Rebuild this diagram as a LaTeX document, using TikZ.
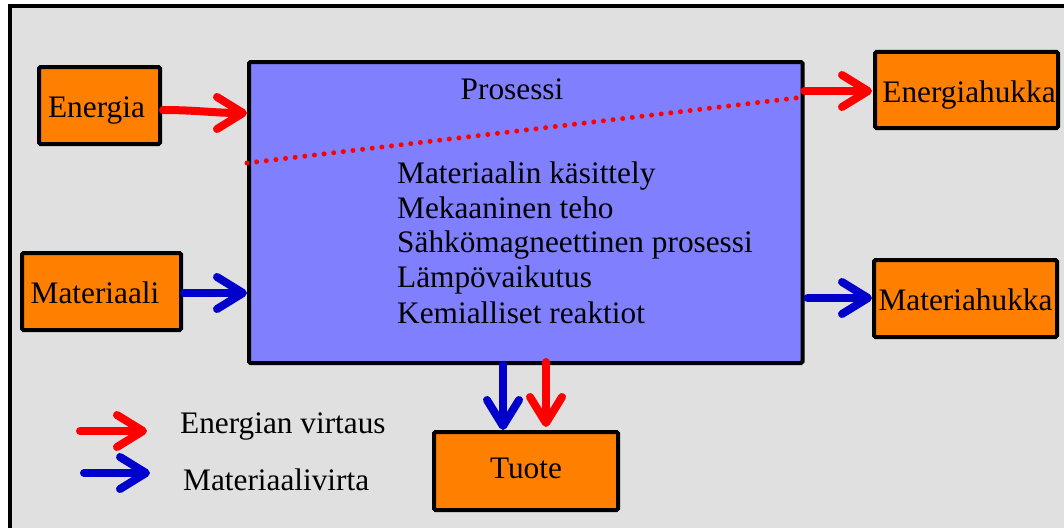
\documentclass[tikz,border=0pt]{standalone}
\usepackage{fontspec}
\setmainfont{Liberation Serif}
\usetikzlibrary{arrows.meta,calc}
\definecolor{bg}{HTML}{E0E0E0}
\definecolor{orangebox}{HTML}{FF8000}
\definecolor{procfill}{HTML}{8080FF}
\definecolor{ered}{HTML}{FF0000}
\definecolor{mblue}{HTML}{0000CC}
\tikzset{
 box/.style={draw=black, line width=4pt, fill=orangebox, rounded corners=1.5pt, inner sep=0pt,
   font=\fontsize{31.3}{35}\selectfont, text height=26pt, text depth=2pt},
 procbox/.style={draw=black, line width=4pt, fill=procfill, rounded corners=1.5pt, inner sep=0pt},
 flowarrow/.style={line width=8pt, line cap=round, -{Straight Barb[length=26pt,width=32pt,round]}},
 earrow/.style={flowarrow, draw=ered},
 marrow/.style={flowarrow, draw=mblue},
 dotline/.style={draw=ered, line width=5pt, line cap=round, dash pattern=on 0pt off 9.7pt},
 txt/.style={font=\fontsize{31.3}{35}\selectfont, inner sep=0pt},
}
\begin{document}
\begin{tikzpicture}[x=1pt,y=-1pt]
\useasboundingbox (0,0) rectangle (1064,527);
\clip (0,0) rectangle (1064,527);
\fill[white] (0,0) rectangle (1064,527);
\draw[line width=4pt, fill=bg] (10,6.5) rectangle (1085,550);

% boxes
\node[procbox, minimum width=553.5pt, minimum height=301pt] (process) at (525.75,212.5) {};
\node[box, minimum width=121pt, minimum height=77pt] (energia) at (99.5,105.5) {Energia\hspace*{6pt}};
\node[box, minimum width=159pt, minimum height=77pt] (materiaali) at (101.5,291.5) {Materiaali\hspace*{13pt}};
\node[box, minimum width=183pt, minimum height=76pt] (ehukka) at (966.5,90) {\hspace*{5pt}Energiahukka};
\node[box, minimum width=183pt, minimum height=77pt] (mhukka) at (965.5,298.5) {Materiahukka};
\node[box, minimum width=184pt, minimum height=78pt, text height=20pt, text depth=6pt] (tuote) at (526,471) {Tuote};

% process texts
\node[txt, anchor=base] (ptitle) at (512,99) {Prosessi};
\node[txt, anchor=base west] (l1) at (397,183) {Materiaalin käsittely};
\node[txt, anchor=base west] (l2) at (397,218) {Mekaaninen teho};
\node[txt, anchor=base west] (l3) at (397,252.5) {Sähkömagneettinen prosessi};
\node[txt, anchor=base west] (l4) at (397,287.5) {Lämpövaikutus};
\node[txt, anchor=base west] (l5) at (397,323) {Kemialliset reaktiot};

% dotted separator
\draw[dotline] (process.west |- 0,163) -- (process.east |- 0,97);

% flows
\draw[earrow] ($(energia.east)+(1,4.5)$) to[out=0,in=180] (process.west |- 0,113);
\draw[earrow] (process.east |- 0,91) -- ($(ehukka.west |- 0,91)+(-1,0)$);
\draw[marrow] ($(materiaali.east |- 0,293)+(1,0)$) -- (process.west |- 0,293);
\draw[marrow] ($(process.east |- 0,298)+(3,0)$) -- (mhukka.west |- 0,298);
\draw[marrow] (process.south -| 503,0) -- (tuote.north -| 503,0);
\draw[earrow] ($(process.south -| 546,0)+(0,-3)$) -- ($(tuote.north -| 546,0)+(0,-3)$);

% legend
\coordinate (lr1) at (80,431);
\coordinate (lr2) at (147,431);
\coordinate (lb1) at (84,473);
\coordinate (lb2) at (150,473);
\draw[earrow] (lr1) -- (lr2);
\draw[marrow] (lb1) -- (lb2);
\node[txt, anchor=base west] (leg1) at (180,433) {Energian virtaus};
\node[txt, anchor=base west] (leg2) at (183,490) {Materiaalivirta};
\end{tikzpicture}
\end{document}
